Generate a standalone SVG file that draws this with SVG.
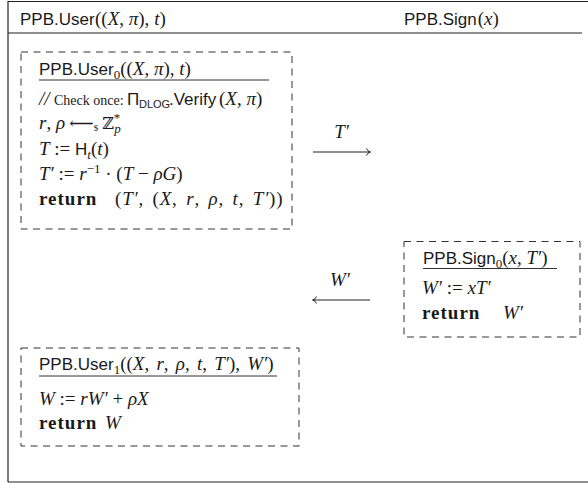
<svg xmlns="http://www.w3.org/2000/svg" width="588" height="484" viewBox="0 0 588 484">
<style>
text { font-size:19px; fill:#1a1a1a; font-family:"Liberation Serif","DejaVu Serif",serif; }
.sf { font-family:"Liberation Sans",Arial,sans-serif; font-style:normal; font-size:17px; }
.m { font-family:"Liberation Serif","DejaVu Serif",serif; font-style:italic; }
.r { font-family:"Liberation Serif","DejaVu Serif",serif; font-style:normal; }
.b { font-family:"Liberation Serif","DejaVu Serif",serif; font-weight:bold; font-style:normal; letter-spacing:1px; }
.s { font-size:13px; }
.bb { font-family:"DejaVu Serif",serif; font-style:normal; font-size:16px; }
.frame { stroke:#222; stroke-width:1.2; fill:none; }
.box { stroke:#333; stroke-width:1; fill:none; stroke-dasharray:7 5.5; }
.ul { stroke:#333; stroke-width:1; }
.conn { stroke:#222; stroke-width:1; fill:none; }
</style>
<g id="frame">
  <line class="frame" x1="8" y1="1.5" x2="588" y2="1.5"/>
  <line class="frame" x1="8" y1="1" x2="8" y2="482"/>
  <line class="frame" x1="8" y1="482" x2="588" y2="482"/>
  <line class="frame" x1="8" y1="33" x2="582" y2="33"/>
  <text x="20" y="25"><tspan class="sf">PPB.User</tspan><tspan class="r" x="95">((</tspan><tspan class="m">X</tspan><tspan class="r">, </tspan><tspan class="m">π</tspan><tspan class="r">), </tspan><tspan class="m">t</tspan><tspan class="r">)</tspan></text>
  <text x="404" y="25"><tspan class="sf">PPB.Sign</tspan><tspan class="r" dx="1">(</tspan><tspan class="m">x</tspan><tspan class="r">)</tspan></text>
</g>
<g id="user0">
  <rect class="box" x="21" y="52" width="271" height="177"/>
  <text x="39" y="75"><tspan class="sf">PPB.User</tspan><tspan class="r s" dy="4">0</tspan><tspan class="r" dy="-4">((</tspan><tspan class="m">X</tspan><tspan class="r">, </tspan><tspan class="m">π</tspan><tspan class="r">), </tspan><tspan class="m">t</tspan><tspan class="r">)</tspan></text>
  <line class="ul" x1="39" y1="80" x2="269" y2="80"/>
  <text y="105"><tspan class="m" x="39">//</tspan><tspan class="r" x="54" style="font-size:14px">Check once:</tspan><tspan class="sf" x="127">Π</tspan><tspan class="sf" x="139" dy="3" style="font-size:11px">DLOG</tspan><tspan class="sf" x="169" dy="-3">.Verify</tspan><tspan class="r" x="219">(</tspan><tspan class="m">X</tspan><tspan class="r">, </tspan><tspan class="m">π</tspan><tspan class="r">)</tspan></text>
  <text x="39" y="129"><tspan class="m">r</tspan><tspan class="r">, </tspan><tspan class="m">ρ</tspan><tspan class="r" style="font-size:17px"> ⟵</tspan><tspan class="r" style="font-size:9px" dy="2">$</tspan><tspan class="bb" dx="4" dy="-2">ℤ</tspan><tspan class="r s" dy="-7">*</tspan><tspan class="m s" dx="-6" dy="11">p</tspan></text>
  <text x="39" y="155"><tspan class="m">T</tspan><tspan class="r"> := </tspan><tspan class="sf">H</tspan><tspan class="m s" dy="4">t</tspan><tspan class="r" dy="-4">(</tspan><tspan class="m">t</tspan><tspan class="r">)</tspan></text>
  <text x="39" y="180"><tspan class="m">T′</tspan><tspan class="r"> := </tspan><tspan class="m">r</tspan><tspan class="r s" dy="-7">−1</tspan><tspan class="r" dy="7"> · (</tspan><tspan class="m">T</tspan><tspan class="r"> − </tspan><tspan class="m">ρG</tspan><tspan class="r">)</tspan></text>
  <text y="205" style="word-spacing:3px; letter-spacing:0.8px"><tspan class="b" x="39">return</tspan><tspan class="r" x="115">(</tspan><tspan class="m">T′</tspan><tspan class="r">, (</tspan><tspan class="m">X</tspan><tspan class="r">, </tspan><tspan class="m">r</tspan><tspan class="r">, </tspan><tspan class="m">ρ</tspan><tspan class="r">, </tspan><tspan class="m">t</tspan><tspan class="r">, </tspan><tspan class="m">T′</tspan><tspan class="r">))</tspan></text>
</g>
<g id="sign0">
  <rect class="box" x="404" y="241.5" width="176" height="95.5"/>
  <text x="423" y="264"><tspan class="sf">PPB.Sign</tspan><tspan class="r s" dy="4">0</tspan><tspan class="r" dy="-4">(</tspan><tspan class="m">x</tspan><tspan class="r">, </tspan><tspan class="m">T′</tspan><tspan class="r">)</tspan></text>
  <line class="ul" x1="423" y1="268.5" x2="557" y2="268.5"/>
  <text x="422" y="294"><tspan class="m">W′</tspan><tspan class="r"> := </tspan><tspan class="m">xT′</tspan></text>
  <text y="319"><tspan class="b" x="422">return</tspan><tspan class="m" x="503">W′</tspan></text>
</g>
<g id="user1">
  <rect class="box" x="21" y="348" width="278" height="98"/>
  <text x="39" y="370" style="word-spacing:2.5px"><tspan class="sf">PPB.User</tspan><tspan class="r s" dy="4">1</tspan><tspan class="r" dy="-4">((</tspan><tspan class="m">X</tspan><tspan class="r">, </tspan><tspan class="m">r</tspan><tspan class="r">, </tspan><tspan class="m">ρ</tspan><tspan class="r">, </tspan><tspan class="m">t</tspan><tspan class="r">, </tspan><tspan class="m">T′</tspan><tspan class="r">), </tspan><tspan class="m">W′</tspan><tspan class="r">)</tspan></text>
  <line class="ul" x1="39" y1="376" x2="277" y2="376"/>
  <text x="39" y="405"><tspan class="m">W</tspan><tspan class="r"> := </tspan><tspan class="m">rW′</tspan><tspan class="r"> + </tspan><tspan class="m">ρX</tspan></text>
  <text y="429"><tspan class="b" x="39">return</tspan><tspan class="m" x="105">W</tspan></text>
</g>
<g id="connectors">
  <line class="conn" x1="313" y1="152" x2="370" y2="152"/>
  <path class="conn" d="M366.5,148.5 Q367.5,151.3 370.5,152 Q367.5,152.7 366.5,155.5"/>
  <text x="341.5" y="138" text-anchor="middle"><tspan class="m">T′</tspan></text>
  <line class="conn" x1="313" y1="300" x2="370" y2="300"/>
  <path class="conn" d="M316.5,296.5 Q315.5,299.3 312.5,300 Q315.5,300.7 316.5,303.5"/>
  <text x="340" y="286" text-anchor="middle"><tspan class="m">W′</tspan></text>
</g>
</svg>
